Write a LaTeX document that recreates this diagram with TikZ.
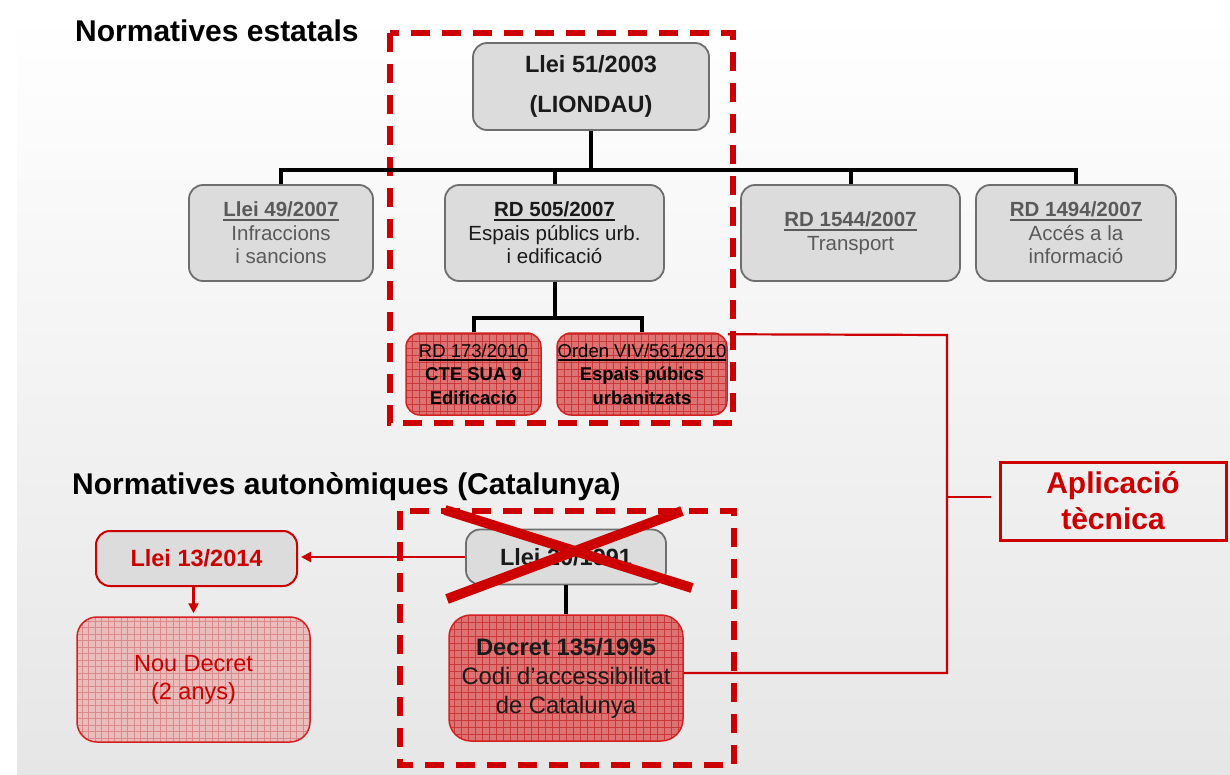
\documentclass[tikz,border=0pt]{standalone}
\usepackage{fontspec}
\setmainfont{Liberation Sans}
\usetikzlibrary{arrows.meta}
\definecolor{bgbot}{HTML}{E6E6E6}
\definecolor{boxfill}{HTML}{DCDCDC}
\definecolor{boxdraw}{HTML}{6E6E6E}
\definecolor{txtgray}{HTML}{5A5A5A}
\definecolor{txtdark}{HTML}{1A1A1A}
\definecolor{rd}{HTML}{CC0000}
\definecolor{redfill}{HTML}{DF7272}
\definecolor{redgridc}{HTML}{C83A3A}
\definecolor{pinkfill}{HTML}{EBBCBC}
\definecolor{pinkgridc}{HTML}{DA8A8A}
\definecolor{redborder}{HTML}{D42020}
\newcommand\ulbar[1]{\setbox0=\hbox{#1}\rlap{\rule[-4pt]{\wd0}{2pt}}\box0}
\newcommand\szS{\fontsize{20.5}{23.5}\selectfont}
\newcommand\szR{\fontsize{18.5}{23.5}\selectfont}
\newcommand\szM{\fontsize{23.5}{28}\selectfont}
\newcommand\szD{\fontsize{23.8}{29}\selectfont}
\newcommand\szT{\fontsize{30}{36}\selectfont}
\begin{document}
\begin{tikzpicture}[x=1pt,y=-1pt,
  graybox/.style={draw=boxdraw, fill=boxfill, line width=1.8, rounded corners=14, align=center, inner sep=0pt},
  redgrid/.style={draw=redborder, fill=redfill, line width=1.5, rounded corners=14, align=center, inner sep=0pt,
    path picture={\draw[redgridc, line width=0.5] (path picture bounding box.south west) grid[step=7pt] (path picture bounding box.north east);}},
  pinkgrid/.style={draw=redborder, fill=pinkfill, line width=1.5, rounded corners=20, align=center, inner sep=0pt,
    path picture={\draw[pinkgridc, line width=0.5] (path picture bounding box.south west) grid[step=6.5pt] (path picture bounding box.north east);}},
  tree/.style={line width=4, black},
  redline/.style={draw=rd, line width=2.2},
  redarrow/.style={redline, -{Triangle[length=10pt,width=10pt]}, shorten >=3pt},
  dashbox/.style={draw=rd, line width=6, dash pattern=on 19pt off 12pt},
  cross/.style={draw=rd, line width=10},
  title/.style={font=\bfseries\szT, anchor=base west, inner sep=0pt}]
\useasboundingbox (0,0) rectangle (1230,775);
\fill[white] (0,0) rectangle (1230,775);
\shade[top color=white, bottom color=bgbot] (17,12) rectangle (1230,775);

% titles
\node[title] (t1) at (75,42) {Normatives estatals};
\node[title] (t2) at (72,494) {Normatives autonòmiques (Catalunya)};

% dashed boxes
\draw[dashbox] (390,33) rectangle (733,423);
\draw[dashbox] (400,511) rectangle (734,765);

% state nodes
\node[graybox, minimum width=236, minimum height=87, font=\bfseries\szM, text=txtdark] (l51) at (591,86.5) {Llei 51/2003\\[12pt](LIONDAU)};
\node[graybox, minimum width=184, minimum height=96, font=\szS, text=txtgray] (l49) at (281,233) {\textbf{\ulbar{Llei 49/2007}}\\Infraccions\\i sancions};
\node[graybox, minimum width=219, minimum height=96, font=\szS, text=txtdark] (rd505) at (554.5,233) {\textbf{\ulbar{RD 505/2007}}\\Espais públics urb.\\i edificació};
\node[graybox, minimum width=219, minimum height=96, font=\szS, text=txtgray] (rd1544) at (850.5,233) {\textbf{\ulbar{RD 1544/2007}}\\Transport};
\node[graybox, minimum width=200, minimum height=96, font=\szS, text=txtgray] (rd1494) at (1076,233) {\textbf{\ulbar{RD 1494/2007}}\\Accés a la\\informació};
\node[redgrid, minimum width=135, minimum height=82, font=\szR, text=black] (rd173) at (473.5,374) {\ulbar{RD 173/2010}\\\textbf{CTE SUA 9}\\\textbf{Edificació}};
\node[redgrid, minimum width=170, minimum height=82, font=\szR, text=black] (orden) at (642,374) {\ulbar{Orden VIV/561/2010}\\\textbf{Espais púbics}\\\textbf{urbanitzats}};

% tree connectors
\coordinate (bus) at (591,170);
\coordinate (bus2) at (554.5,318);
\draw[tree] (l51.south) -- (bus);
\draw[tree] (l49.north) |- (bus) -| (rd1494.north);
\draw[tree] (rd505.north) -- (rd505.north |- bus);
\draw[tree] (rd1544.north) -- (rd1544.north |- bus);
\draw[tree] (rd505.south) -- (bus2);
\draw[tree] (rd173.north) |- (bus2) -| (orden.north);

% autonomic nodes
\node[graybox, minimum width=200, minimum height=55, font=\bfseries\szM, text=txtdark] (l20) at (566,557) {Llei 20/1991};
\node[redgrid, rounded corners=22, minimum width=234, minimum height=126, font=\szD, text=txtdark] (decret) at (566,678) {\textbf{Decret 135/1995}\\Codi d’accessibilitat\\de Catalunya};
\node[graybox, draw=rd, line width=2, minimum width=201, minimum height=55, font=\bfseries\szM, text=rd] (l13) at (196.5,558.5) {Llei 13/2014};
\node[pinkgrid, minimum width=233, minimum height=125, font=\szM, text=rd] (noud) at (193.5,679.5) {Nou Decret\\(2 anys)};
\node[draw=rd, line width=3, minimum width=226, minimum height=78, align=center, inner sep=0pt, font=\bfseries\fontsize{30}{36}\selectfont, text=rd] (apl) at (1113,501) {Aplicació\\tècnica};

\draw[tree] (l20.south) -- (decret.north);
\draw[redarrow] (l20.west) -- (l20.west -| l13.east);
\draw[redarrow] (noud.north |- l13.south) -- (noud.north);

% technical application connectors
\coordinate (j1) at (947,335);
\coordinate (j2) at (947,673);
\coordinate (j3) at (947,497);
\coordinate (j4) at (991,497);
\draw[redline] ([yshift=-2pt]orden.north east) -- (j1) -- (j2) -- (decret.east |- j2);
\draw[redline] (j3) -- (j4);

% cross over Llei 20/1991
\draw[cross] (445,510) -- (692,588);
\draw[cross] (682,511) -- (447,599);
\end{tikzpicture}
\end{document}
